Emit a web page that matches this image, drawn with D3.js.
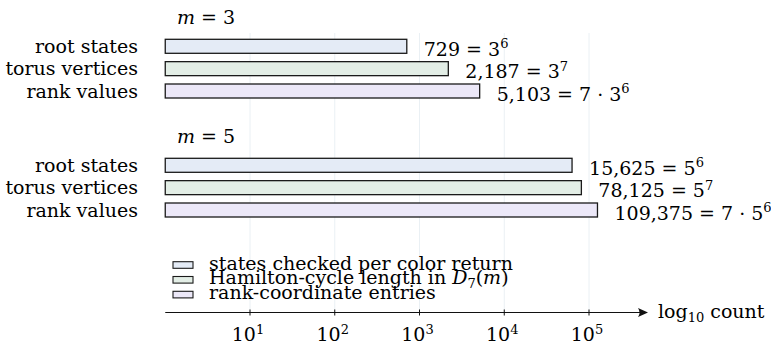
<!DOCTYPE html>
<html><head><meta charset="utf-8">
<script src="https://cdn.jsdelivr.net/npm/d3@7"></script>
</head>
<body style="margin:0"><svg id="c" width="771" height="345" font-family="DejaVu Serif" font-size="19"></svg>
<script>
const categories = ["root states", "torus vertices", "rank values"];
const groupM = [3, 5];
// plotted bar lengths, in log10(count)
const logM3 = [2.85, 3.34, 3.71];
const logM5 = [4.80, 4.91, 5.10];
const valueTextM3 = [["729 = 3", "6"], ["2,187 = 3", "7"], ["5,103 = 7 · 3", "6"]];
const valueTextM5 = [["15,625 = 5", "6"], ["78,125 = 5", "7"], ["109,375 = 7 · 5", "6"]];
const legendLabels = ["states checked per color return", "Hamilton-cycle length in D7(m)", "rank-coordinate entries"];
const tickValues = [1, 2, 3, 4, 5];
const tickLabels = ["10", "10", "10", "10", "10"];
const fills = ["#e4ebf6", "#e3eee6", "#ece8f8"];

const svg = d3.select("#c");
const SUP = 13;

const x = d3.scaleLinear().domain([0, 5]).range([165.25, 589]);
const axisEnd = 648;
const axisY = 312.5;
const groupY = d3.scalePoint().domain(groupM).range([0, 119]);
const rowY = d3.scalePoint().domain(categories).range([46.3, 91]);
const barH = 14;

function txt(xp, yp) {
  return svg.append("text").attr("x", xp).attr("y", yp);
}

// grid lines
svg.append("g").selectAll("line").data(tickValues).join("line")
  .attr("x1", d => x(d)).attr("x2", d => x(d))
  .attr("y1", 33).attr("y2", axisY)
  .attr("stroke", "#eaf0f4").attr("stroke-width", 1);

const data = [
  {m: groupM[0], vals: logM3, txt: valueTextM3},
  {m: groupM[1], vals: logM5, txt: valueTextM5}
];

data.forEach(g => {
  const off = groupY(g.m);
  const t = txt(177, 24 + off);
  t.append("tspan").attr("font-style", "italic").text("m");
  t.append("tspan").text(" = " + g.m);

  categories.forEach((c, i) => {
    const cy = rowY(c) + off;
    txt(138, cy + 6.5).attr("text-anchor", "end").text(c);
    svg.append("rect").attr("x", x(0)).attr("y", cy - barH / 2)
      .attr("width", x(g.vals[i]) - x(0)).attr("height", barH)
      .attr("fill", fills[i]).attr("stroke", "#1a1a1a").attr("stroke-width", 1.3);
    const vt = txt(x(g.vals[i]) + 17, cy + 9.5);
    vt.append("tspan").text(g.txt[i][0]);
    vt.append("tspan").attr("dy", -7.5).attr("font-size", SUP).text(g.txt[i][1]);
  });
});

// legend
legendLabels.forEach((l, i) => {
  const ly = 265 + i * 14.8;
  svg.append("rect").attr("x", 173).attr("y", ly - 3.3).attr("width", 20).attr("height", 6.6)
    .attr("fill", fills[i]).attr("stroke", "#1a1a1a").attr("stroke-width", 1.1);
  const t = txt(209, ly + 4.5);
  if (i === 1) {
    t.append("tspan").text("Hamilton-cycle length in ");
    t.append("tspan").attr("font-style", "italic").text("D");
    t.append("tspan").attr("dy", 4).attr("font-size", SUP).text("7");
    t.append("tspan").attr("dy", -4).text("(");
    t.append("tspan").attr("font-style", "italic").text("m");
    t.append("tspan").text(")");
  } else {
    t.text(l);
  }
});

// axis
svg.append("line").attr("x1", x(0)).attr("x2", axisEnd - 3).attr("y1", axisY).attr("y2", axisY)
  .attr("stroke", "#111").attr("stroke-width", 1.2);
svg.append("path")
  .attr("d", `M${axisEnd},${axisY} L${axisEnd - 10},${axisY - 4.5} Q${axisEnd - 7},${axisY} ${axisEnd - 10},${axisY + 4.5} Z`)
  .attr("fill", "#111");
const ticks = svg.append("g");
tickValues.forEach((v, i) => {
  ticks.append("line").attr("x1", x(v)).attr("x2", x(v)).attr("y1", axisY - 3).attr("y2", axisY + 3)
    .attr("stroke", "#111").attr("stroke-width", 1);
  const t = txt(x(v) - 2, 341).attr("text-anchor", "middle");
  t.append("tspan").text(tickLabels[i]);
  t.append("tspan").attr("dy", -7.5).attr("font-size", SUP).text(String(v));
});
const al = txt(658, 318);
al.append("tspan").text("log");
al.append("tspan").attr("dy", 4).attr("font-size", SUP).text("10");
al.append("tspan").attr("dy", -4).text(" count");
</script></body></html>
